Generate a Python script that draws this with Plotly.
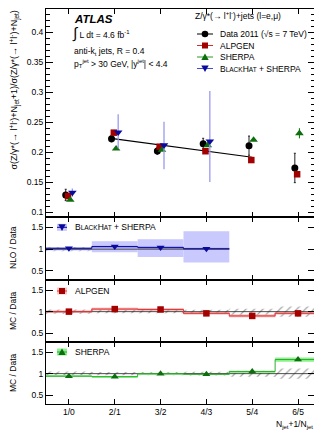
import plotly.graph_objects as go
from plotly.subplots import make_subplots

# ---------------- data ----------------
categories = ["1/0", "2/1", "3/2", "4/3", "5/4", "6/5"]
xpos = [1, 2, 3, 4, 5, 6]

data_vals = [0.1288, 0.2227, 0.2022, 0.2143, 0.2110, 0.1738]
data_err = [0.0095, 0.0055, 0.0055, 0.0090, 0.0160, 0.0245]
alpgen_vals = [0.1270, 0.2327, 0.2093, 0.2017, 0.1870, 0.1633]
sherpa_vals = [0.1205, 0.2060, 0.2038, 0.2117, 0.2205, 0.2317]
sherpa_err = [0.0, 0.0, 0.0, 0.0, 0.0, 0.0085]
blackhat_vals = [0.1327, 0.2333, 0.2117, 0.2183]
blackhat_err_up = [0.007, 0.030, 0.039, 0.084]
blackhat_err_dn = [0.007, 0.027, 0.040, 0.068]

fit_x = [2, 5]
fit_y = [0.2222, 0.1917]

# ratio panels
data_rel_unc = [0.05, 0.04, 0.04, 0.045, 0.07, 0.12]
nlo_ratio = [1.02, 1.06, 1.04, 1.01]
nlo_band_up = [1.03, 1.18, 1.23, 1.41]
nlo_band_dn = [0.97, 0.93, 0.82, 0.69]
nlo_stat = [0.02, 0.02, 0.02, 0.02]
alpgen_ratio = [1.00, 1.06, 1.05, 0.96, 0.90, 0.96]
alpgen_unc = [0.015, 0.02, 0.015, 0.015, 0.02, 0.015]
sherpa_ratio = [0.94, 0.93, 1.00, 0.985, 1.05, 1.33]
sherpa_unc = [0.01, 0.01, 0.01, 0.01, 0.015, 0.05]

# ---------------- layout helpers ----------------
# page body has an 8px default margin, so the figure is shrunk by that offset
OFF = 8
W, H = 322 - OFF, 431 - OFF
L, R, T, B = 46 - OFF, 7, 9 - OFF, 27
PW = W - L - R
PH = H - T - B
X0 = L + OFF           # plot left edge in screen pixels
Y1 = H - B + OFF       # plot bottom edge in screen pixels


def fx(p):
    return (p - X0) / PW


def fy(p):
    return (Y1 - p) / PH


FONT = "Liberation Sans, Arial, sans-serif"
FS = 8.5

C_DATA = "black"
C_ALP = "#a30000"
C_SHE = "#0c6e0c"
C_BH = "#0a0a9c"
C_BH_ERR = "#9a9af0"
C_BH_BAND = "#c9c9fd"
C_BH_STAT = "#7b7be4"
C_ALP_BAND = "#ffc4c4"
C_ALP_LINE = "#e03a3a"
C_SHE_BAND = "#8ef08e"
C_SHE_LINE = "#2fae2f"

fig = make_subplots(rows=4, cols=1, shared_xaxes=True, vertical_spacing=0)


def hist_xy(vals, centers):
    xs = [c - 0.5 for c in centers] + [centers[-1] + 0.5]
    ys = list(vals) + [vals[-1]]
    return xs, ys


# ---------------- main panel ----------------
fig.add_trace(go.Scatter(x=fit_x, y=fit_y, mode="lines",
                         line=dict(color="black", width=1.2), showlegend=False), row=1, col=1)
fig.add_trace(go.Scatter(x=[x - 0.07 for x in xpos], y=data_vals, mode="markers",
                         error_y=dict(type="data", array=data_err, color="#222", thickness=1, width=1),
                         marker=dict(symbol="circle", size=7, color=C_DATA), showlegend=False), row=1, col=1)
fig.add_trace(go.Scatter(x=[x - 0.02 for x in xpos], y=alpgen_vals, mode="markers",
                         marker=dict(symbol="square", size=6.5, color=C_ALP), showlegend=False), row=1, col=1)
fig.add_trace(go.Scatter(x=[x + 0.03 for x in xpos], y=sherpa_vals, mode="markers",
                         error_y=dict(type="data", array=sherpa_err, color=C_SHE, thickness=1, width=0),
                         marker=dict(symbol="triangle-up", size=7.5, color=C_SHE), showlegend=False), row=1, col=1)
nbh = len(blackhat_vals)
fig.add_trace(go.Scatter(x=[x + 0.075 for x in xpos[:nbh]], y=blackhat_vals, mode="markers",
                         error_y=dict(type="data", symmetric=False, array=blackhat_err_up,
                                      arrayminus=blackhat_err_dn, color=C_BH_ERR, thickness=1.3, width=0),
                         marker=dict(symbol="triangle-down", size=7.5, color=C_BH), showlegend=False), row=1, col=1)


# ---------------- ratio panels ----------------
def hatch(row, n):
    fig.add_trace(go.Bar(x=xpos[:n], y=[2 * u for u in data_rel_unc[:n]],
                         base=[1 - u for u in data_rel_unc[:n]], width=1,
                         marker=dict(color="rgba(0,0,0,0)", line=dict(width=0),
                                     pattern=dict(shape="/", fgcolor="#4a4a4a", bgcolor="rgba(0,0,0,0)",
                                                  size=6, solidity=0.2, fillmode="overlay")),
                         showlegend=False, hoverinfo="skip"), row=row, col=1)


def unit_line(row, n):
    fig.add_trace(go.Scatter(x=[xpos[0] - 0.5, xpos[n - 1] + 0.5], y=[1, 1], mode="lines",
                             line=dict(color="#222", width=0.8), showlegend=False), row=row, col=1)


# NLO
hatch(2, nbh)
fig.add_trace(go.Bar(x=xpos[:nbh], y=[u - d for u, d in zip(nlo_band_up, nlo_band_dn)], base=nlo_band_dn,
                     width=1, marker=dict(color=C_BH_BAND, line=dict(width=0)), showlegend=False), row=2, col=1)
fig.add_trace(go.Bar(x=xpos[:nbh], y=[2 * s for s in nlo_stat], base=[r - s for r, s in zip(nlo_ratio, nlo_stat)],
                     width=1, marker=dict(color=C_BH_STAT, opacity=0.55, line=dict(width=0)), showlegend=False), row=2, col=1)
unit_line(2, nbh)
sx, sy = hist_xy(nlo_ratio, xpos[:nbh])
fig.add_trace(go.Scatter(x=sx, y=sy, mode="lines", line=dict(color=C_BH, width=1, shape="hv"),
                         showlegend=False), row=2, col=1)
fig.add_trace(go.Scatter(x=xpos[:nbh], y=nlo_ratio, mode="markers",
                         marker=dict(symbol="triangle-down", size=7, color=C_BH), showlegend=False), row=2, col=1)

# ALPGEN
hatch(3, len(xpos))
fig.add_trace(go.Bar(x=xpos, y=[2 * u for u in alpgen_unc], base=[r - u for r, u in zip(alpgen_ratio, alpgen_unc)],
                     width=1, marker=dict(color=C_ALP_BAND, line=dict(width=0.6, color="#f07070")),
                     showlegend=False), row=3, col=1)
unit_line(3, len(xpos))
sx, sy = hist_xy(alpgen_ratio, xpos)
fig.add_trace(go.Scatter(x=sx, y=sy, mode="lines", line=dict(color=C_ALP_LINE, width=1, shape="hv"),
                         showlegend=False), row=3, col=1)
fig.add_trace(go.Scatter(x=xpos, y=alpgen_ratio, mode="markers",
                         marker=dict(symbol="square", size=6.5, color=C_ALP), showlegend=False), row=3, col=1)

# SHERPA
hatch(4, len(xpos))
fig.add_trace(go.Bar(x=xpos, y=[2 * u for u in sherpa_unc], base=[r - u for r, u in zip(sherpa_ratio, sherpa_unc)],
                     width=1, marker=dict(color=C_SHE_BAND, line=dict(width=0)), showlegend=False), row=4, col=1)
unit_line(4, len(xpos))
sx, sy = hist_xy(sherpa_ratio, xpos)
fig.add_trace(go.Scatter(x=sx, y=sy, mode="lines", line=dict(color=C_SHE_LINE, width=1, shape="hv"),
                         showlegend=False), row=4, col=1)
fig.add_trace(go.Scatter(x=xpos, y=sherpa_ratio, mode="markers",
                         marker=dict(symbol="triangle-up", size=7, color=C_SHE), showlegend=False), row=4, col=1)

# ---------------- axes ----------------
panels = [(9, 217), (217, 280), (280, 342), (342, 404)]
yranges = [[0.092, 0.439], [0.29, 1.74], [0.29, 1.74], [0.29, 1.74]]
for i, (top, bot) in enumerate(panels, start=1):
    ya = dict(domain=[max(0, fy(bot)), min(1, fy(top))], range=yranges[i - 1], showgrid=False, zeroline=False,
              showline=True, linecolor="black", linewidth=1, mirror="ticks", automargin=False,
              ticks="inside", ticklen=7, tickcolor="black", tickwidth=1,
              tickfont=dict(family=FONT, size=FS, color="black"))
    if i == 1:
        ya.update(tickvals=[0.1, 0.15, 0.2, 0.25, 0.3, 0.35, 0.4],
                  ticktext=["0.1", "0.15", "0.2", "0.25", "0.3", "0.35", "0.4"],
                  minor=dict(dtick=0.01, tick0=0, ticks="inside", ticklen=4, tickcolor="black", showgrid=False))
    else:
        ya.update(tickvals=[0.5, 1, 1.5], ticktext=["0.5", "1", "1.5"])
    fig.update_yaxes(row=i, col=1, **ya)
    xa = dict(range=[0.5, 6.37], showgrid=False, zeroline=False, showline=True, linecolor="black",
              linewidth=1, mirror="ticks", ticks="inside", ticklen=5, tickcolor="black", automargin=False,
              tickvals=xpos, ticktext=categories, tickfont=dict(family=FONT, size=FS, color="black"),
              showticklabels=(i == 4))
    fig.update_xaxes(row=i, col=1, **xa)

# ---------------- annotations ----------------
ann = []


def txt(x, y, s, size=FS, xanchor="left", yanchor="middle", angle=0, **kw):
    ann.append(dict(x=fx(x), y=fy(y), xref="paper", yref="paper", text=s, showarrow=False,
                    xanchor=xanchor, yanchor=yanchor, textangle=angle,
                    font=dict(family=FONT, size=size, color="black"), **kw))


txt(72, 19, "<b><i>ATLAS</i></b>", size=11.5)
txt(70, 33, "<span style='font-size:15px'>∫</span> L dt = 4.6 fb<sup>-1</sup>")
txt(72, 51, "anti-k<sub>t</sub> jets, R = 0.4")
txt(72, 64, "p<sub>T</sub><sup>jet</sup> > 30 GeV, |y<sup>jet</sup>| < 4.4")

txt(193, 16, "Z/γ*(→ l<sup>+</sup>l<sup>-</sup>)+jets (l=e,μ)")
bh_name = "B<span style='font-size:6.5px'>LACK</span>H<span style='font-size:6.5px'>AT</span> + SHERPA"
leg_rows = [(34, "Data 2011 (√s = 7 TeV)"), (45.5, "ALPGEN"), (57, "SHERPA"), (68.5, bh_name)]
for yy, s in leg_rows:
    txt(218, yy, s)

txt(73, 227.3, bh_name)
txt(73, 291, "ALPGEN")
txt(73, 352, "SHERPA")

ytitle = ("σ(Z/γ*(→ l<sup>+</sup>l<sup>-</sup>)+N<sub>jet</sub>+1)/"
          "σ(Z/γ*(→ l<sup>+</sup>l<sup>-</sup>)+N<sub>jet</sub>)")
txt(14, 9, ytitle, size=9, angle=-90, xanchor="center", yanchor="top")
txt(13, 248, "NLO / Data", angle=-90, xanchor="center")
txt(13, 311, "MC / Data", angle=-90, xanchor="center")
txt(13, 373, "MC / Data", angle=-90, xanchor="center")
txt(315, 424, "N<sub>jet</sub>+1/N<sub>jet</sub>", xanchor="right")

# ---------------- legend glyphs (shapes) ----------------
shapes = []


def pshape(xc, yc, **kw):
    d = dict(xref="paper", yref="paper", xsizemode="pixel", ysizemode="pixel",
             xanchor=fx(xc), yanchor=fy(yc))
    d.update(kw)
    shapes.append(d)


def glyph(xc, yc, kind, color, linecolor, half=8, band=None):
    if band:
        pshape(xc, yc, type="rect", x0=-5, x1=5, y0=-3.5, y1=3.5, fillcolor=band, line=dict(width=0))
    pshape(xc, yc, type="line", x0=-half, x1=half, y0=0, y1=0, line=dict(color=linecolor, width=1))
    if kind == "circle":
        pshape(xc, yc, type="circle", x0=-3.3, x1=3.3, y0=-3.3, y1=3.3, fillcolor=color, line=dict(width=0))
    elif kind == "square":
        pshape(xc, yc, type="rect", x0=-3, x1=3, y0=-3, y1=3, fillcolor=color, line=dict(width=0))
    elif kind == "up":
        pshape(xc, yc, type="path", path="M -3.7 -3 L 3.7 -3 L 0 3.6 Z", fillcolor=color, line=dict(width=0))
    elif kind == "down":
        pshape(xc, yc, type="path", path="M -3.7 3 L 3.7 3 L 0 -3.6 Z", fillcolor=color, line=dict(width=0))


glyph(205, 34, "circle", C_DATA, "black")
glyph(205, 45.5, "square", C_ALP, "#d03030")
glyph(205, 57, "up", C_SHE, "#2a9a2a")
glyph(205, 68.5, "down", C_BH, "#4a4ad0")

glyph(62, 227.3, "down", C_BH, C_BH, half=5, band=C_BH_BAND)
glyph(62, 291, "square", C_ALP, C_ALP_LINE, half=5, band=C_ALP_BAND)
glyph(62, 352, "up", C_SHE, C_SHE_LINE, half=5, band=C_SHE_BAND)

fig.update_layout(width=W, height=H, margin=dict(l=L, r=R, t=T, b=B, autoexpand=False),
                  paper_bgcolor="white", plot_bgcolor="white", barmode="overlay",
                  showlegend=False, annotations=ann, shapes=shapes,
                  font=dict(family=FONT, size=FS, color="black"))

fig.write_html("out.html")
